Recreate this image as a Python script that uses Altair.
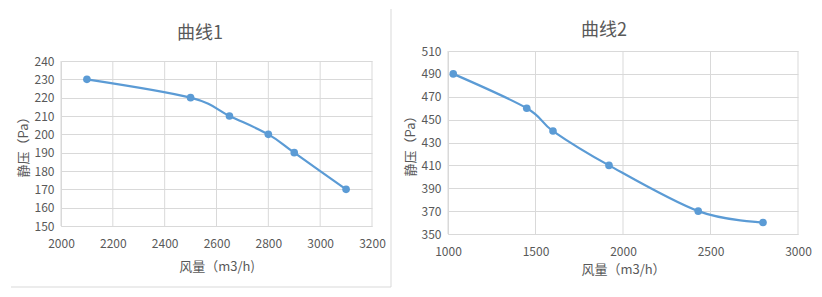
import altair as alt
import pandas as pd

FONT = "Noto Sans CJK SC"
LINE = "#5b9bd5"
GRID = "#d9d9d9"
TXT = "#595959"

# 曲线1
flow1 = [2100, 2500, 2650, 2800, 2900, 3100]
press1 = [230, 220, 210, 200, 190, 170]
xticks1 = [2000, 2200, 2400, 2600, 2800, 3000, 3200]
yticks1 = [150, 160, 170, 180, 190, 200, 210, 220, 230, 240]

# 曲线2
flow2 = [1030, 1450, 1600, 1920, 2430, 2800]
press2 = [490, 460, 440, 410, 370, 360]
xticks2 = [1000, 1500, 2000, 2500, 3000]
yticks2 = [350, 370, 390, 410, 430, 450, 470, 490, 510]

df1 = pd.DataFrame({"flow": flow1, "press": press1})
df2 = pd.DataFrame({"flow": flow2, "press": press2})


def panel(df, xt, yt, title, xtitle, w, h, top, ttl_x, ttl_y, xtp, border):
    xs = alt.Scale(domain=[xt[0], xt[-1]], nice=False, zero=False)
    ys = alt.Scale(domain=[yt[0], yt[-1]], nice=False, zero=False, range=[h, top])
    x = alt.X("flow:Q", title=xtitle, scale=xs,
              axis=alt.Axis(values=xt, tickCount=len(xt) + 2, format="d",
                            labelFlush=False, grid=False, labelOverlap=False,
                            labelPadding=12, titlePadding=xtp))
    y = alt.Y("press:Q", title="静压（Pa）", scale=ys,
              axis=alt.Axis(values=yt, tickCount=len(yt) + 2, format="d",
                            labelOverlap=False, labelPadding=7, titlePadding=4))
    base = alt.Chart(df)
    vgrid = alt.Chart(pd.DataFrame({"flow": xt})).mark_rule(color=GRID, strokeWidth=1).encode(
        x=alt.X("flow:Q", scale=xs), y=alt.value(top), y2=alt.value(h))
    line = base.mark_line(color=LINE, strokeWidth=2.2, interpolate="cardinal",
                          tension=0).encode(x=x, y=y)
    pts = base.mark_circle(color=LINE, size=58, opacity=1).encode(x="flow:Q", y="press:Q")
    ttl = alt.Chart(pd.DataFrame({"t": [title]})).mark_text(
        font=FONT, fontSize=18, color=TXT, align="center", baseline="middle").encode(
        text="t:N", x=alt.value(ttl_x), y=alt.value(ttl_y))
    layers = [vgrid, line, pts, ttl]
    if border:
        vr = alt.Chart(pd.DataFrame({"a": [0]})).mark_rule(color=GRID, strokeWidth=1).encode(
            x=alt.value(w + 19), y=alt.value(-42), y2=alt.value(236))
        hr = alt.Chart(pd.DataFrame({"a": [0]})).mark_rule(color=GRID, strokeWidth=1).encode(
            x=alt.value(-50), x2=alt.value(w + 19), y=alt.value(236))
        layers = [vr, hr] + layers
    return alt.layer(*layers).properties(width=w, height=h)


c1 = panel(df1, xticks1, yticks1, "曲线1", "风量（m3/h)", 311, 175, 10, 139, -17, 11, True)
c2 = panel(df2, xticks2, yticks2, "曲线2", "风量（m3/h）", 350, 183, 0, 156, -20, 6, False)

chart = alt.hconcat(c1, c2, spacing=12).properties(
    padding={"left": 10, "top": 8, "right": 0, "bottom": 0}
).configure_view(stroke=None).configure_axis(
    labelFont=FONT, titleFont=FONT, labelColor=TXT, titleColor=TXT,
    labelFontSize=12, titleFontSize=13, titleFontWeight="normal",
    gridColor=GRID, domainColor=GRID, ticks=False,
)

chart.save("out.html", embed_options={"renderer": "svg", "actions": False})
